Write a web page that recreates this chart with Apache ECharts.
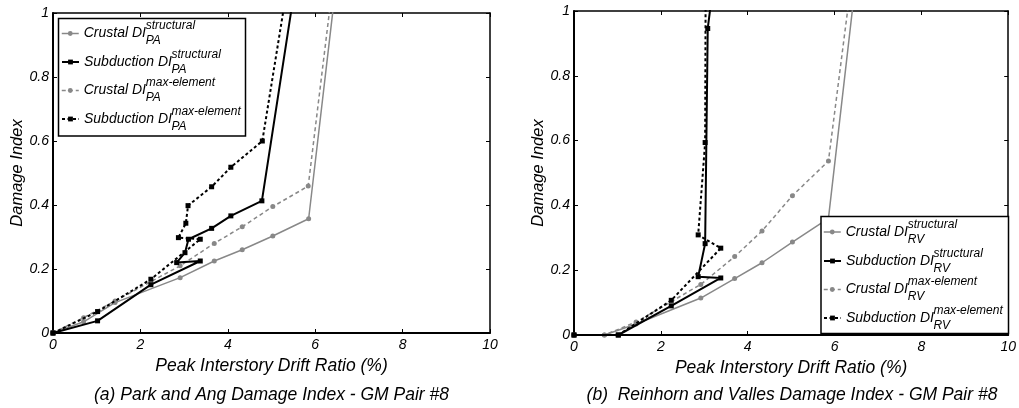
<!DOCTYPE html>
<html><head><meta charset="utf-8">
<script src="https://cdn.jsdelivr.net/npm/echarts@6/dist/echarts.min.js"></script>
<style>html,body{margin:0;padding:0;background:#fff}#c{width:1019px;height:408px}</style>
</head><body><div id="c"></div>
<script>
// ---------- data ----------
const xTicks = [0, 2, 4, 6, 8, 10];
const yTicks = [0, 0.2, 0.4, 0.6, 0.8, 1];
const xTitle = 'Peak Interstory Drift Ratio (%)';
const yTitle = 'Damage Index';
const captions = ['(a) Park and Ang Damage Index - GM Pair #8', '(b)  Reinhorn and Valles Damage Index - GM Pair #8'];
const legendMain = ['Crustal DI', 'Subduction DI', 'Crustal DI', 'Subduction DI'];
const legendSup = ['structural', 'structural', 'max-element', 'max-element'];
const legendSub = ['PA', 'RV'];

// (a) Park and Ang
const paCrustalStructX = [0, 0.70, 1.42, 2.91, 3.69, 4.33, 5.03, 5.85, 6.57];
const paCrustalStructY = [0, 0.035, 0.095, 0.173, 0.225, 0.26, 0.303, 0.357, 1.2];
const paSubStructX = [0, 1.02, 2.24, 3.37, 2.83, 3.02, 3.10, 3.63, 4.07, 4.78, 5.67];
const paSubStructY = [0, 0.038, 0.151, 0.225, 0.22, 0.251, 0.293, 0.327, 0.366, 0.413, 1.2];
const paCrustalMaxX = [0, 0.70, 1.42, 2.91, 3.69, 4.33, 5.03, 5.84, 6.50];
const paCrustalMaxY = [0, 0.048, 0.10, 0.21, 0.28, 0.332, 0.395, 0.459, 1.2];
const paSubMaxX = [0, 1.02, 2.24, 3.37, 2.87, 3.04, 3.09, 3.63, 4.07, 4.79, 5.50];
const paSubMaxY = [0, 0.067, 0.168, 0.293, 0.298, 0.343, 0.398, 0.457, 0.518, 0.60, 1.2];

// (b) Reinhorn and Valles
const rvCrustalStructX = [0, 0.70, 1.43, 2.92, 3.70, 4.33, 5.03, 5.86, 6.58];
const rvCrustalStructY = [0, 0, 0.034, 0.114, 0.174, 0.223, 0.287, 0.36, 1.2];
const rvSubStructX = [0, 1.02, 2.24, 3.38, 2.86, 3.02, 3.08, 3.32];
const rvSubStructY = [0, 0, 0.09, 0.176, 0.18, 0.282, 0.946, 1.2];
const rvCrustalMaxX = [0, 0.70, 1.43, 2.92, 3.70, 4.33, 5.03, 5.86, 6.49];
const rvCrustalMaxY = [0, 0, 0.04, 0.156, 0.242, 0.321, 0.43, 0.537, 1.2];
const rvSubMaxX = [0, 1.02, 2.24, 3.38, 2.86, 3.02, 3.035];
const rvSubMaxY = [0, 0, 0.107, 0.268, 0.309, 0.594, 1.2];

// ---------- styles ----------
const FONT = "'Liberation Sans', Arial, sans-serif";
const GRAY = '#888888';
const styles = [
  { color: GRAY, width: 1.5, type: 'solid', symbol: 'circle', size: 5 },
  { color: '#000', width: 2, type: 'solid', symbol: 'rect', size: 5 },
  { color: GRAY, width: 1.5, type: [4, 3], symbol: 'circle', size: 5 },
  { color: '#000', width: 2, type: [3, 2.5], symbol: 'rect', size: 5 }
];
const grids = [
  { left: 53, top: 13, width: 437, height: 320 },
  { left: 574, top: 11, width: 436, height: 324 }
];
const sets = [
  [[paCrustalStructX, paCrustalStructY], [paSubStructX, paSubStructY], [paCrustalMaxX, paCrustalMaxY], [paSubMaxX, paSubMaxY]],
  [[rvCrustalStructX, rvCrustalStructY], [rvSubStructX, rvSubStructY], [rvCrustalMaxX, rvCrustalMaxY], [rvSubMaxX, rvSubMaxY]]
];
const legendLeft = [61, 823];
const rowCenters = [[33.5, 62, 90.5, 119], [232, 261, 289.5, 318]];
const boxes = [{ x: 58.5, y: 18.5, width: 187, height: 117.5 }, { x: 821, y: 216.5, width: 187.5, height: 117 }];
const ITEM_W = 17;

const xAxes = [], yAxes = [], series = [], legends = [], graphics = [];
const tickLabel = { fontFamily: FONT, fontStyle: 'italic', fontSize: 14, color: '#000' };

grids.forEach((g, gi) => {
  [['bottom', true], ['top', false]].forEach(([pos, main]) => {
    xAxes.push({
      type: 'value', gridIndex: gi, position: pos, min: xTicks[0], max: xTicks[xTicks.length - 1],
      interval: xTicks[1] - xTicks[0],
      axisLine: { show: true, onZero: false, lineStyle: { color: '#000', width: main ? 2 : 1.5 } },
      axisTick: { show: true, inside: true, length: 4, lineStyle: { color: '#000', width: 1 } },
      axisLabel: main ? Object.assign({ show: true, margin: 5 }, tickLabel) : { show: false },
      splitLine: { show: false },
      name: main ? xTitle : '', nameLocation: 'middle', nameGap: 16,
      nameTextStyle: { fontFamily: FONT, fontStyle: 'italic', fontSize: 17.5, color: '#000' }
    });
  });
  [['left', true], ['right', false]].forEach(([pos, main]) => {
    yAxes.push({
      type: 'value', gridIndex: gi, position: pos, min: yTicks[0], max: yTicks[yTicks.length - 1],
      interval: 0.2,
      axisLine: { show: true, onZero: false, lineStyle: { color: '#000', width: main ? 2 : 1.5 } },
      axisTick: { show: true, inside: true, length: 4, lineStyle: { color: '#000', width: 1 } },
      axisLabel: main ? Object.assign({ show: true, margin: 4 }, tickLabel) : { show: false },
      splitLine: { show: false },
      name: main ? yTitle : '', nameLocation: 'middle', nameGap: 26,
      nameTextStyle: { fontFamily: FONT, fontStyle: 'italic', fontSize: 16.5, color: '#000' }
    });
  });

  const ctx = document.createElement('canvas').getContext('2d');
  ctx.font = "italic 14px " + FONT;

  sets[gi].forEach((pair, si) => {
    const st = styles[si];
    const name = legendMain[si] + ' ' + legendSup[si] + ' ' + legendSub[gi];
    series.push({
      type: 'line', name: name, xAxisIndex: gi * 2, yAxisIndex: gi * 2,
      data: pair[0].map((x, k) => [x, pair[1][k]]),
      symbol: st.symbol, symbolSize: st.size, showSymbol: true, clip: true,
      lineStyle: { color: st.color, width: st.width, type: st.type },
      itemStyle: { color: st.color },
      z: si === 1 || si === 3 ? 3 : 2, animation: false, silent: true
    });
    const c = rowCenters[gi][si];
    legends.push({
      show: true, data: [name], orient: 'vertical', left: legendLeft[gi], top: c - 8,
      padding: 0, itemWidth: ITEM_W, itemHeight: 6, itemGap: 0, selectedMode: false,
      formatter: () => legendMain[si],
      lineStyle: { width: st.width },
      textStyle: { fontFamily: FONT, fontStyle: 'italic', fontSize: 14, color: '#000', lineHeight: 16 },
      z: 6
    });
    const tx = legendLeft[gi] + ITEM_W + 5 + ctx.measureText(legendMain[si]).width + 0.5;
    graphics.push({ type: 'text', z: 7, x: tx, y: c - 7.5,
      style: { text: legendSup[si], font: 'italic 12px ' + FONT, fill: '#000', verticalAlign: 'middle', align: 'left' } });
    graphics.push({ type: 'text', z: 7, x: tx, y: c + 7.5,
      style: { text: legendSub[gi], font: 'italic 12px ' + FONT, fill: '#000', verticalAlign: 'middle', align: 'left' } });
  });

  graphics.push({ type: 'rect', z: 5, shape: boxes[gi],
    style: { fill: '#fff', stroke: '#000', lineWidth: 1.5 } });
  graphics.push({ type: 'text', z: 7, x: g.left + g.width / 2, y: 395,
    style: { text: captions[gi], font: 'italic 17.5px ' + FONT, fill: '#000', align: 'center', verticalAlign: 'middle' } });
});

const chart = echarts.init(document.getElementById('c'), null, { renderer: 'canvas' });
chart.setOption({
  backgroundColor: '#fff',
  animation: false,
  grid: grids,
  xAxis: xAxes,
  yAxis: yAxes,
  legend: legends,
  series: series,
  graphic: graphics
});
</script></body></html>
